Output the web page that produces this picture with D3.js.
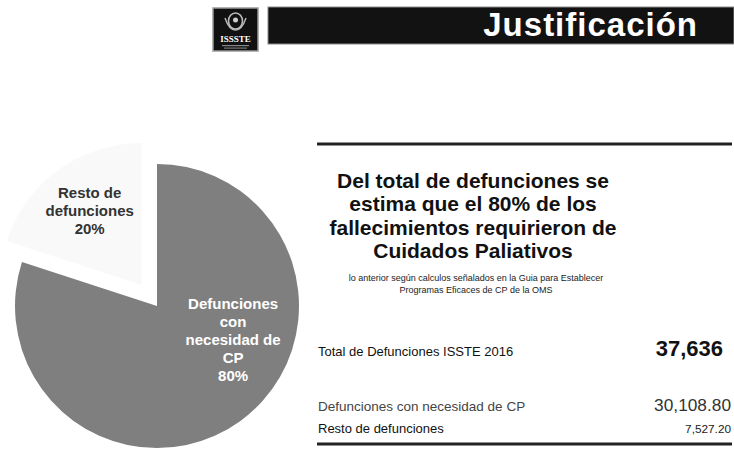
<!DOCTYPE html>
<html>
<head>
<meta charset="utf-8">
<script src="https://cdn.jsdelivr.net/npm/d3@7"></script>
<style>
  body { margin: 0; background: #fff; }
  svg { display: block; font-family: "Liberation Sans", Arial, sans-serif; }
</style>
</head>
<body>
<div id="chart"></div>
<script>
// pie data
var categories = ["Defunciones con necesidad de CP", "Resto de defunciones"];
var pieLabels = [["Defunciones", "con", "necesidad de", "CP", "80%"], ["Resto de", "defunciones", "20%"]];
var shares = [80, 20];

// table data
var rowLabels = ["Total de Defunciones ISSTE 2016", "Defunciones con necesidad de CP", "Resto de defunciones"];
var rowValues = [37636, 30108.80, 7527.20];

var headline = ["Del total de defunciones se", "estima que el 80% de los", "fallecimientos requirieron de", "Cuidados Paliativos"];
var note = ["lo anterior según calculos señalados en la Guia para Establecer", "Programas Eficaces de CP de la OMS"];

var width = 734, height = 450;

var svg = d3.select("#chart").append("svg")
    .attr("width", width)
    .attr("height", height);

// ---- header ----
var logo = svg.append("g").attr("transform", "translate(213,8)");
logo.append("rect")
    .attr("width", 45).attr("height", 43)
    .attr("fill", "#111").attr("stroke", "#9a9a9a").attr("stroke-width", 1.5);
logo.append("ellipse").attr("cx", 22.5).attr("cy", 13).attr("rx", 7).attr("ry", 8)
    .attr("fill", "none").attr("stroke", "#bbb").attr("stroke-width", 1.6);
logo.append("path").attr("d", "M12,10 Q16,22 22.5,22 Q29,22 33,10")
    .attr("fill", "none").attr("stroke", "#bbb").attr("stroke-width", 1.4);
logo.append("circle").attr("cx", 22.5).attr("cy", 12).attr("r", 2.5).attr("fill", "#ccc");
logo.append("text")
    .attr("x", 22.5).attr("y", 34)
    .attr("text-anchor", "middle")
    .style("font-family", "'Liberation Serif', serif")
    .style("font-weight", "bold")
    .style("font-size", "9px")
    .attr("fill", "#fff")
    .text("ISSSTE");
logo.append("rect").attr("x", 9).attr("y", 37).attr("width", 27).attr("height", 1.2).attr("fill", "#888");
logo.append("rect").attr("x", 11).attr("y", 39.5).attr("width", 23).attr("height", 1.2).attr("fill", "#777");

svg.append("rect")
    .attr("x", 268).attr("y", 7)
    .attr("width", width - 268).attr("height", 37)
    .attr("fill", "#121212").attr("stroke", "#8a8a8a").attr("stroke-width", 1);
svg.append("text")
    .attr("x", 698).attr("y", 36)
    .attr("text-anchor", "end")
    .style("font-weight", "bold")
    .style("font-size", "33px")
    .style("letter-spacing", "1px")
    .attr("fill", "#fff")
    .text("Justificación");

// ---- pie ----
var cx = 157, cy = 306, radius = 142, explode = 26;
var colors = d3.scaleOrdinal().domain(categories).range(["#7f7f7f", "#f9f9f9"]);

var pie = d3.pie().sort(null).value(function(d){ return d; });
var arcs = pie(shares);
var arc = d3.arc().innerRadius(0).outerRadius(radius);

function offset(d, i) {
    if (i === 0) return [0, 0];
    var mid = (d.startAngle + d.endAngle) / 2;
    return [Math.sin(mid) * explode, -Math.cos(mid) * explode];
}

var pieG = svg.append("g").attr("transform", "translate(" + cx + "," + cy + ")");

pieG.selectAll("path.slice")
    .data(arcs)
    .enter()
    .append("path")
    .attr("class", "slice")
    .attr("d", arc)
    .attr("transform", function(d, i){
        var o = offset(d, i);
        return "translate(" + o[0] + "," + o[1] + ")";
    })
    .attr("fill", function(d, i){ return colors(categories[i]); });

// label anchors (relative to slice centroid direction)
var labelArc = d3.arc().innerRadius(92).outerRadius(92);
var labelShift = [[22, -40], [2, 0]];
var labelColors = ["#fff", "#333"];
var lineH = 18;

pieG.selectAll("text.plabel")
    .data(arcs)
    .enter()
    .append("text")
    .attr("class", "plabel")
    .attr("text-anchor", "middle")
    .style("font-weight", "bold")
    .style("font-size", "15px")
    .attr("fill", function(d, i){ return labelColors[i]; })
    .each(function(d, i){
        var c = labelArc.centroid(d);
        var o = offset(d, i);
        var x = c[0] + o[0] + labelShift[i][0];
        var lines = pieLabels[i];
        var y0 = c[1] + o[1] + labelShift[i][1] - (lines.length - 1) * lineH / 2 + 5;
        var t = d3.select(this);
        lines.forEach(function(l, k){
            t.append("tspan").attr("x", x).attr("y", y0 + k * lineH).text(l);
        });
    });

// ---- right panel ----
var panelL = 317, panelR = 732, midX = 473;

svg.append("line")
    .attr("x1", panelL).attr("x2", panelR)
    .attr("y1", 144).attr("y2", 144)
    .attr("stroke", "#222").attr("stroke-width", 3);

svg.append("text")
    .attr("text-anchor", "middle")
    .style("font-weight", "bold")
    .style("font-size", "21px")
    .attr("fill", "#111")
    .selectAll("tspan")
    .data(headline)
    .enter()
    .append("tspan")
    .attr("x", midX)
    .attr("y", function(d, i){ return 188 + i * 23.4; })
    .text(function(d){ return d; });

svg.append("text")
    .attr("text-anchor", "middle")
    .style("font-size", "9px")
    .attr("fill", "#222")
    .selectAll("tspan")
    .data(note)
    .enter()
    .append("tspan")
    .attr("x", midX + 3)
    .attr("y", function(d, i){ return 281 + i * 12; })
    .text(function(d){ return d; });

var rowY = [356, 411, 433];
var labelStyle = [{size: 13, color: "#111"}, {size: 13.5, color: "#444"}, {size: 13, color: "#111"}];
var valueStyle = [
    {size: 22, weight: "bold", color: "#111", x: 723, fmt: d3.format(",")},
    {size: 17.3, weight: "normal", color: "#333", x: 731, fmt: d3.format(",.2f")},
    {size: 11.8, weight: "normal", color: "#222", x: 731, fmt: d3.format(",.2f")}
];

var rows = svg.selectAll("g.row")
    .data(rowLabels)
    .enter()
    .append("g")
    .attr("class", "row");

rows.append("text")
    .attr("x", 318)
    .attr("y", function(d, i){ return rowY[i]; })
    .style("font-size", function(d, i){ return labelStyle[i].size + "px"; })
    .attr("fill", function(d, i){ return labelStyle[i].color; })
    .text(function(d){ return d; });

rows.append("text")
    .attr("x", function(d, i){ return valueStyle[i].x; })
    .attr("y", function(d, i){ return rowY[i]; })
    .attr("text-anchor", "end")
    .style("font-size", function(d, i){ return valueStyle[i].size + "px"; })
    .style("font-weight", function(d, i){ return valueStyle[i].weight; })
    .attr("fill", function(d, i){ return valueStyle[i].color; })
    .text(function(d, i){ return valueStyle[i].fmt(rowValues[i]); });

svg.append("line")
    .attr("x1", panelL).attr("x2", panelR)
    .attr("y1", 444).attr("y2", 444)
    .attr("stroke", "#222").attr("stroke-width", 3);
</script>
</body>
</html>
